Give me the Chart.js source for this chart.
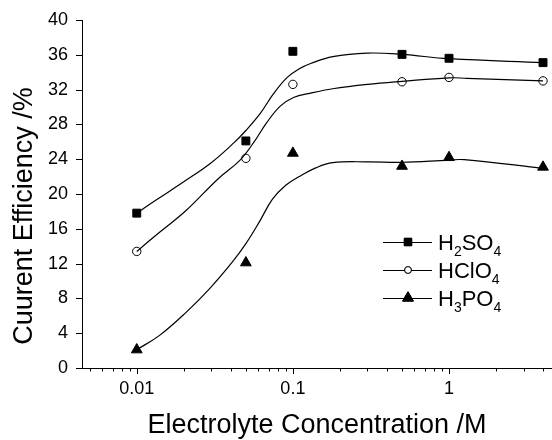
<!DOCTYPE html>
<html>
<head>
<meta charset="utf-8">
<script src="https://cdn.jsdelivr.net/npm/chart.js@4.4.0/dist/chart.umd.min.js"></script>
<style>
  html, body { margin: 0; padding: 0; background: #fff; }
  #wrap { width: 552px; height: 440px; }
</style>
</head>
<body>
<div id="wrap"><canvas id="grafica" width="552" height="440"></canvas></div>
<script>
// concentraciones medidas (M)
const conc = [0.01, 0.05, 0.1, 0.5, 1, 4];
const h2so4 = [17.8, 26.1, 36.4, 36.05, 35.6, 35.1];
const hclo4 = [13.4, 24.1, 32.6, 32.9, 33.4, 33.0];
const h3po4 = [2.1, 12.1, 24.7, 23.2, 24.2, 23.1];

// curvas de ajuste
const fitH2so4X = [0.01, 0.0133, 0.02, 0.03, 0.042, 0.05, 0.062, 0.075, 0.092, 0.11, 0.13, 0.18, 0.3, 0.5, 1, 4];
const fitH2so4Y = [17.8, 19.3, 21.4, 23.6, 25.9, 27.3, 29.3, 31.5, 33.4, 34.4, 35.0, 35.8, 36.2, 36.05, 35.55, 35.1];
const fitHclo4X = [0.01, 0.014, 0.0207, 0.033, 0.0459, 0.056, 0.068, 0.083, 0.101, 0.13, 0.18, 0.3, 0.5, 1, 1.3, 4];
const fitHclo4Y = [13.4, 15.6, 18.1, 21.7, 23.9, 25.9, 28.2, 30.1, 31.1, 31.6, 32.1, 32.6, 32.95, 33.35, 33.3, 33.0];
const fitH3po4X = [0.01, 0.014, 0.0207, 0.0292, 0.041, 0.05, 0.061, 0.074, 0.09, 0.11, 0.14, 0.18, 0.3, 0.5, 1, 1.25, 4];
const fitH3po4Y = [2.1, 3.75, 6.4, 9.1, 12.2, 14.3, 16.8, 19.4, 21.0, 22.0, 23.0, 23.6, 23.7, 23.65, 23.9, 23.95, 22.95];

// ticks del eje x (log) y los que llevan texto
const xTicks = [0.005, 0.006, 0.007, 0.008, 0.009, 0.01, 0.02, 0.03, 0.04, 0.05, 0.06, 0.07, 0.08, 0.09,
                0.1, 0.2, 0.3, 0.4, 0.5, 0.6, 0.7, 0.8, 0.9, 1, 2, 3, 4];
const xLabels = [0.01, 0.1, 1];

const xTitle = 'Electrolyte Concentration /M';
const yTitle = 'Cuurent Efficiency /%';

// leyenda: trozos de texto [texto, esSubindice]
const names = [
    [['H', 0], ['2', 1], ['SO', 0], ['4', 1]],
    [['HClO', 0], ['4', 1]],
    [['H', 0], ['3', 1], ['PO', 0], ['4', 1]]
];

const fuente = '"Liberation Sans", Arial, Helvetica, sans-serif';

function pares(xs, ys) {
    return xs.map((x, i) => ({ x: x, y: ys[i] }));
}

const marcas = [
    { style: 'rect', radius: 5.6, bg: '#000', r2: 5.2 },
    { style: 'circle', radius: 4.2, bg: '#fff', r2: 3.4 },
    { style: 'triangle', radius: 6.2, bg: '#000', r2: 6.2 }
];

const curvas = [[fitH2so4X, fitH2so4Y], [fitHclo4X, fitHclo4Y], [fitH3po4X, fitH3po4Y]];
const puntos = [h2so4, hclo4, h3po4];

const datasets = [];
curvas.forEach(c => {
    datasets.push({
        data: pares(c[0], c[1]),
        showLine: true,
        borderColor: '#000',
        borderWidth: 1.2,
        pointRadius: 0,
        tension: 0.4,
        fill: false
    });
});
puntos.forEach((p, i) => {
    datasets.push({
        data: pares(conc, p),
        showLine: false,
        pointStyle: marcas[i].style,
        pointRadius: marcas[i].radius,
        pointBackgroundColor: marcas[i].bg,
        pointBorderColor: '#000',
        pointBorderWidth: 1
    });
});

// dibuja ticks, titulos y leyenda
const extras = {
    id: 'extras',
    afterDraw(chart) {
        const ctx = chart.ctx;
        const xs = chart.scales.x, ys = chart.scales.y;
        ctx.save();
        ctx.strokeStyle = '#000';
        ctx.lineWidth = 1;
        ctx.beginPath();
        xs.ticks.forEach(t => {
            const p = Math.round(xs.getPixelForValue(t.value)) + 0.5;
            const len = xLabels.includes(t.value) ? 6 : 3.5;
            ctx.moveTo(p, xs.top);
            ctx.lineTo(p, xs.top + len);
        });
        ys.ticks.forEach(t => {
            const p = Math.round(ys.getPixelForValue(t.value)) + 0.5;
            const len = t.value % 4 === 0 ? 6 : 3;
            ctx.moveTo(ys.right, p);
            ctx.lineTo(ys.right - len, p);
        });
        ctx.stroke();

        // titulos de los ejes
        ctx.fillStyle = '#000';
        ctx.font = '27px ' + fuente;
        ctx.textAlign = 'center';
        ctx.textBaseline = 'alphabetic';
        ctx.fillText(xTitle, 317, 433);
        ctx.translate(32, 216);
        ctx.rotate(-Math.PI / 2);
        ctx.fillText(yTitle, 0, 0);
        ctx.setTransform(1, 0, 0, 1, 0, 0);

        // leyenda
        names.forEach((partes, i) => {
            const y = 242 + i * 28;
            ctx.beginPath();
            ctx.moveTo(383, y + 0.5);
            ctx.lineTo(432, y + 0.5);
            ctx.lineWidth = 1.2;
            ctx.stroke();
            ctx.fillStyle = marcas[i].bg;
            ctx.lineWidth = 1;
            Chart.helpers.drawPoint(ctx, { pointStyle: marcas[i].style, radius: marcas[i].r2, borderWidth: 1 }, 408, y);
            ctx.fill();
            ctx.stroke();
            let x = 438;
            ctx.fillStyle = '#000';
            ctx.textAlign = 'left';
            partes.forEach(pt => {
                if (pt[1]) {
                    ctx.font = '14px ' + fuente;
                    ctx.fillText(pt[0], x, y + 14);
                } else {
                    ctx.font = '22px ' + fuente;
                    ctx.fillText(pt[0], x, y + 8);
                }
                x += ctx.measureText(pt[0]).width;
            });
        });
        ctx.restore();
    }
};

const config = {
    type: 'scatter',
    data: { datasets: datasets },
    options: {
        responsive: false,
        animation: false,
        layout: { autoPadding: false, padding: { top: 20, right: 1, left: 0, bottom: 0 } },
        plugins: { legend: { display: false }, tooltip: { enabled: false } },
        scales: {
            x: {
                type: 'logarithmic',
                min: 0.00446,
                max: 4.5,
                afterBuildTicks: s => { s.ticks = xTicks.map(v => ({ value: v })); },
                afterFit: s => { s.height = 72; },
                grid: { display: false, tickLength: 10 },
                border: { display: true, color: '#000', width: 1 },
                ticks: {
                    autoSkip: false,
                    maxRotation: 0,
                    padding: 0,
                    color: '#000',
                    font: { family: fuente, size: 18 },
                    callback: v => xLabels.includes(v) ? String(v) : ''
                }
            },
            y: {
                min: 0,
                max: 40,
                afterFit: s => { s.width = 82; },
                grid: { display: false, tickLength: 8 },
                border: { display: true, color: '#000', width: 1 },
                ticks: {
                    stepSize: 2,
                    padding: 6,
                    color: '#000',
                    font: { family: fuente, size: 18 },
                    callback: v => v % 4 === 0 ? String(v) : ''
                }
            }
        }
    },
    plugins: [extras]
};

const myChart = new Chart(document.getElementById('grafica'), config);
</script>
</body>
</html>
